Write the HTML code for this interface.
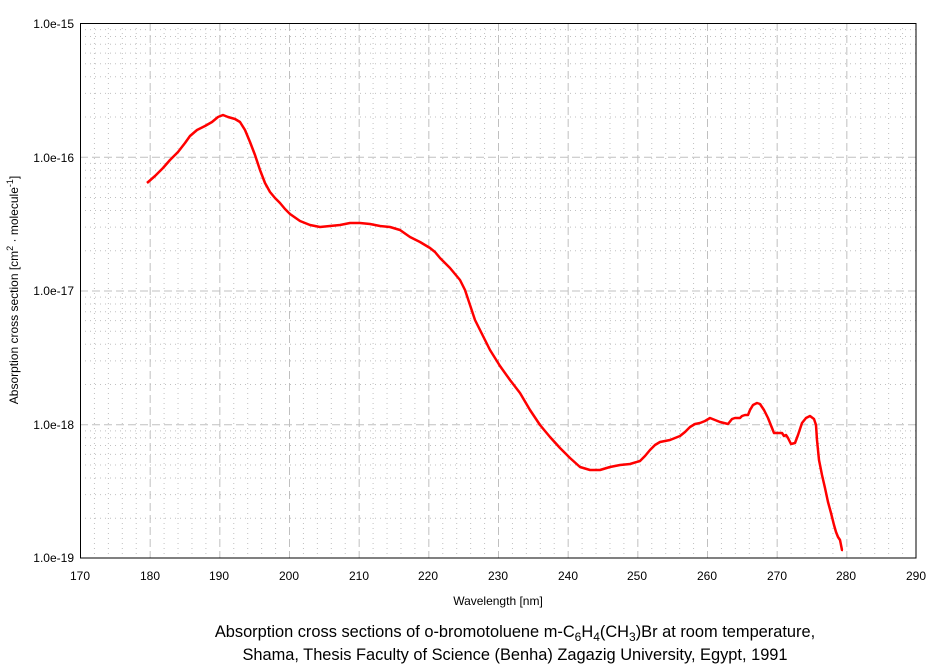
<!DOCTYPE html>
<html><head><style>body{margin:0;background:#fff;}svg{display:block;font-family:"Liberation Sans",Arial,sans-serif;}</style></head>
<body>
<svg width="939" height="665" viewBox="0 0 939 665" xmlns="http://www.w3.org/2000/svg">
<g id="grid"></g>
<script>
(function(){
var g=document.getElementById('grid'),ns='http://www.w3.org/2000/svg';
function L(x1,y1,x2,y2,d){var l=document.createElementNS(ns,'line');l.setAttribute('x1',x1);l.setAttribute('y1',y1);l.setAttribute('x2',x2);l.setAttribute('y2',y2);l.setAttribute('stroke','#c0c0c0');l.setAttribute('stroke-width','1');l.setAttribute('stroke-dasharray',d);g.appendChild(l);}
var x0=80,x1=916,y0=23,y1=558,dec=(y1-y0)/4;
for(var n=172;n<290;n+=2){var x=x0+(n-170)*(x1-x0)/120+0.5;L(x,y0,x,y1,n%10==0?'8,4':'1,4');}
for(var d=0;d<4;d++){for(var m=2;m<=9;m++){var y=y1-dec*(d+Math.log10(m))+0.5;L(x0,y,x1,y,'1,4');}if(d>0){var y=y1-dec*d+0.5;L(x0,y,x1,y,'8,4');}}
})();
</script>
<rect x="80.5" y="23.5" width="835.5" height="534.5" fill="none" stroke="#000" stroke-width="1"/>
<g font-size="12" fill="#000" text-anchor="end">
<text x="74" y="28">1.0e-15</text><text x="74" y="162">1.0e-16</text><text x="74" y="295">1.0e-17</text><text x="74" y="429">1.0e-18</text><text x="74" y="562">1.0e-19</text>
</g>
<g font-size="12" fill="#000" text-anchor="middle">
<text x="80" y="580">170</text><text x="150" y="580">180</text><text x="219" y="580">190</text><text x="289" y="580">200</text><text x="359" y="580">210</text><text x="428" y="580">220</text><text x="498" y="580">230</text><text x="568" y="580">240</text><text x="637" y="580">250</text><text x="707" y="580">260</text><text x="777" y="580">270</text><text x="846" y="580">280</text><text x="916" y="580">290</text>
<text x="498" y="605">Wavelength [nm]</text>
</g>
<text transform="translate(18,290) rotate(-90)" font-size="12" text-anchor="middle">Absorption cross section [cm<tspan dy="-5" font-size="9">2</tspan><tspan dy="5"> · molecule</tspan><tspan dy="-5" font-size="9">-1</tspan><tspan dy="5">]</tspan></text>
<polyline fill="none" stroke="#ff0000" stroke-width="2.5" stroke-linejoin="round" points="147,183 155,176 163,168 170,160 178,152 185,143 190,136 197,130 205,126 212,122 218,117 223,115 228,117 235,119 240,122 245,130 250,142 255,155 260,170 265,183 270,192 275,198 280,203 285,209 290,214 300,221 310,225 320,227 330,226 340,225 350,223 360,223 370,224 380,226 390,227 400,230 410,237 420,242 430,248 435,252 440,258 450,268 460,280 465,290 470,305 475,320 480,330 485,340 490,350 500,366 510,380 520,393 530,410 540,425 550,437 560,448 570,458 580,467 590,470 600,470 610,467 620,465 630,464 640,461 645,456 650,450 655,445 660,442 670,440 680,436 685,432 690,427 695,424 700,423 705,421 710,418 715,420 720,422 728,424 732,419 735,418 740,418 742,416 745,415 748,415 750,410 753,405 757,403 760,404 764,410 768,418 772,428 774,433 778,433 782,433 784,436 786,435 788,438 791,444 795,443 798,435 802,423 806,418 810,416 814,419 816,425 817,440 819,460 822,475 825,488 828,502 831,513 834,525 836,532 838,537 840,540 842,550 843,550"/>
<g font-size="16.4" fill="#000" text-anchor="middle">
<text x="515" y="637">Absorption cross sections of o-bromotoluene m-C<tspan dy="4" font-size="12">6</tspan><tspan dy="-4">H</tspan><tspan dy="4" font-size="12">4</tspan><tspan dy="-4">(CH</tspan><tspan dy="4" font-size="12">3</tspan><tspan dy="-4">)Br at room temperature,</tspan></text>
<text x="515" y="660">Shama, Thesis Faculty of Science (Benha) Zagazig University, Egypt, 1991</text>
</g>
</svg>
</body></html>
